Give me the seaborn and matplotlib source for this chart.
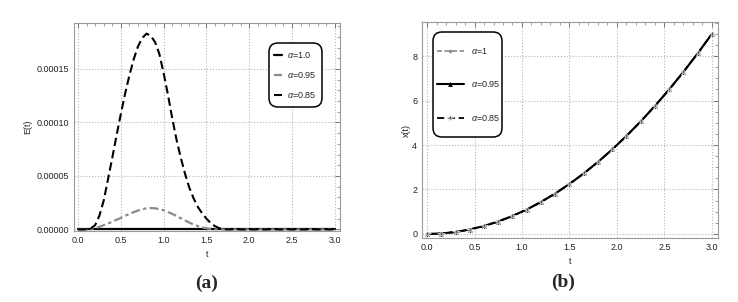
import numpy as np
import matplotlib
matplotlib.use("Agg")
import matplotlib.pyplot as plt
from matplotlib.ticker import MultipleLocator, FormatStrFormatter
from matplotlib.patches import FancyBboxPatch
from matplotlib.transforms import IdentityTransform
import seaborn as sns

# panel (a): error E(t), values in units of 1e-5
t_a = np.linspace(0, 3, 61)
e_100 = [0.0] * 61
e_095 = [0, 0, 0, 0.02, 0.1, 0.25, 0.4, 0.55, 0.72, 0.9,
         1.08, 1.27, 1.45, 1.62, 1.77, 1.89, 1.97, 2.0, 1.97, 1.9,
         1.79, 1.63, 1.45, 1.26, 1.05, 0.84, 0.64, 0.46, 0.31, 0.19,
         0.1, 0.04, 0.01, 0, 0, 0, 0, 0, 0, 0,
         0, 0, 0, 0, 0, 0, 0, 0, 0, 0,
         0, 0, 0, 0, 0, 0, 0, 0, 0, 0, 0]
e_085 = [0, 0, 0.02, 0.1, 0.4, 1.3, 2.7, 4.7, 6.7, 8.8,
         10.8, 12.7, 14.4, 15.9, 17.1, 17.9, 18.3, 18.1, 17.5, 16.4,
         14.6, 12.6, 10.4, 8.4, 6.7, 5.2, 3.9, 2.9, 2.1, 1.5,
         1.0, 0.6, 0.3, 0.12, 0.03, 0, 0, 0, 0, 0,
         0, 0, 0, 0, 0, 0, 0, 0, 0, 0,
         0, 0, 0, 0, 0, 0, 0, 0, 0, 0, 0]

# panel (b): solution x(t)
t_b = [0, 0.15, 0.3, 0.45, 0.6, 0.75, 0.9, 1.05, 1.2, 1.35, 1.5,
       1.65, 1.8, 1.95, 2.1, 2.25, 2.4, 2.55, 2.7, 2.85, 3.0]
x_100 = [0, 0.02, 0.09, 0.2, 0.36, 0.56, 0.81, 1.1, 1.44, 1.82, 2.25,
         2.72, 3.24, 3.8, 4.41, 5.06, 5.76, 6.5, 7.29, 8.12, 9.0]
x_095 = [0, 0.02, 0.09, 0.2, 0.36, 0.56, 0.81, 1.1, 1.44, 1.82, 2.25,
         2.72, 3.24, 3.8, 4.41, 5.06, 5.76, 6.5, 7.29, 8.12, 9.0]
x_085 = [0, 0.02, 0.09, 0.2, 0.36, 0.56, 0.81, 1.1, 1.44, 1.82, 2.25,
         2.72, 3.24, 3.8, 4.41, 5.06, 5.76, 6.5, 7.29, 8.12, 9.0]

sns.set_theme(style="white")
plt.rcParams['font.family'] = ['Liberation Sans', 'DejaVu Sans']
plt.rcParams['mathtext.fontset'] = 'custom'
plt.rcParams['mathtext.it'] = 'Liberation Sans:italic'
fs = 6.5

fig = plt.figure(figsize=(7.38, 3.02), dpi=100)
ax1 = fig.add_axes([0.1003, 0.235, 0.3604, 0.689])
ax2 = fig.add_axes([0.5718, 0.212, 0.401, 0.715])


def frame(ax):
    for s in ax.spines.values():
        s.set_color('#9a9a9a')
        s.set_linewidth(0.8)
    ax.tick_params(which='both', direction='in', top=True, right=True,
                   colors='#777777', labelcolor='#222222', labelsize=fs)
    ax.tick_params(which='major', length=3.5, width=0.7)
    ax.tick_params(which='minor', length=2, width=0.5)
    ax.grid(True, which='major', linestyle=':', color='#b5b5b5', lw=0.8)


def legend_box(ax, x, y, w, h):
    # rounded frame in pixel coordinates (origin bottom left)
    box = FancyBboxPatch((x, y), w, h, boxstyle='round,pad=0,rounding_size=9',
                         transform=IdentityTransform(), facecolor='white',
                         edgecolor='black', lw=1.1, zorder=4.5, clip_on=False)
    ax.add_patch(box)


sns.lineplot(x=t_a, y=np.array(e_100) * 1e-5, ax=ax1, color='black', lw=1.6,
             label=r'$\alpha$=1.0')
sns.lineplot(x=t_a, y=np.array(e_095) * 1e-5, ax=ax1, color='#8a8a8a', lw=1.6,
             linestyle=(0, (4, 1.5, 1.5, 1.5)), label=r'$\alpha$=0.95')
sns.lineplot(x=t_a, y=np.array(e_085) * 1e-5, ax=ax1, color='black', lw=1.5,
             linestyle=(0, (4, 2)), label=r'$\alpha$=0.85')
ax1.set_xlim(-0.047, 3.06)
ax1.set_ylim(-0.15e-5, 19.3e-5)
ax1.xaxis.set_major_locator(MultipleLocator(0.5))
ax1.xaxis.set_minor_locator(MultipleLocator(0.1))
ax1.yaxis.set_major_locator(MultipleLocator(5e-5))
ax1.yaxis.set_minor_locator(MultipleLocator(1e-5))
ax1.xaxis.set_major_formatter(FormatStrFormatter('%.1f'))
ax1.yaxis.set_major_formatter(FormatStrFormatter('%.5f'))
frame(ax1)
ax1.set_xlabel('t', fontsize=fs, labelpad=4)
ax1.set_ylabel('E(t)', fontsize=fs, labelpad=3)
legend_box(ax1, 269, 195, 53, 64)
leg1 = ax1.legend(loc='center', bbox_to_anchor=(0.833, 0.75), borderaxespad=0,
                  fontsize=fs, handlelength=0.8, handletextpad=0.6, labelspacing=1.1,
                  borderpad=0, frameon=False)
leg1.set_zorder(5)

sns.lineplot(x=t_b, y=x_100, ax=ax2, color='#8a8a8a', lw=1.2, linestyle=(0, (3, 1.5)),
             marker='o', markersize=2.5, markeredgewidth=0, label=r'$\alpha$=1')
sns.lineplot(x=t_b, y=x_095, ax=ax2, color='black', lw=1.5, marker='^',
             markersize=3.5, markeredgewidth=0, label=r'$\alpha$=0.95')
sns.lineplot(x=t_b, y=x_085, ax=ax2, color='black', lw=1.3, linestyle=(0, (4, 2)),
             marker='*', markersize=5.5, markeredgewidth=0.4, markerfacecolor='#555555',
             label=r'$\alpha$=0.85')
ax2.set_xlim(-0.053, 3.063)
ax2.set_ylim(-0.18, 9.53)
ax2.xaxis.set_major_locator(MultipleLocator(0.5))
ax2.xaxis.set_minor_locator(MultipleLocator(0.1))
ax2.yaxis.set_major_locator(MultipleLocator(2))
ax2.yaxis.set_minor_locator(MultipleLocator(0.5))
ax2.xaxis.set_major_formatter(FormatStrFormatter('%.1f'))
frame(ax2)
ax2.set_xlabel('t', fontsize=fs, labelpad=4)
ax2.set_ylabel('x(t)', fontsize=fs, labelpad=1)
legend_box(ax2, 433, 165, 69, 105)
leg2 = ax2.legend(loc='center', bbox_to_anchor=(0.157, 0.711), borderaxespad=0,
                  fontsize=fs, handlelength=3.0, handletextpad=0.8, labelspacing=2.6,
                  borderpad=0, frameon=False)
leg2.set_zorder(5)

fig.text(0.280, 0.063, '(a)', ha='center', va='center', fontsize=14,
         fontweight='bold', family='Liberation Serif')
fig.text(0.763, 0.066, '(b)', ha='center', va='center', fontsize=14,
         fontweight='bold', family='Liberation Serif')

fig.savefig('out.png', dpi=100)
